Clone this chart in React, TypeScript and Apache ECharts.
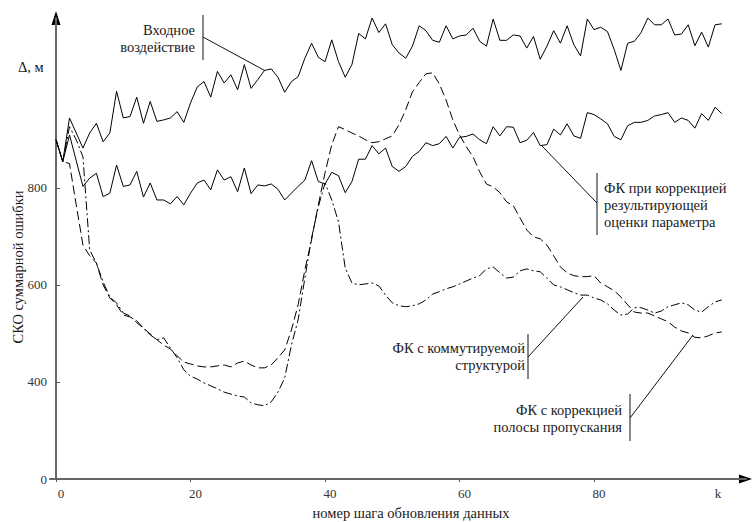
import React, { useEffect, useRef } from "react";
import * as echarts from "echarts";

// step index k = 0..99
const inputSignal = [
  899, 854, 944, 913, 882, 913, 933, 895, 913, 999,
  944, 947, 987, 933, 978, 937, 940, 944, 957, 935,
  975, 1008, 1019, 987, 1040, 1016, 1033, 1002, 1054, 1005,
  1023, 1042, 1045, 1028, 997, 1019, 1029, 1067, 1098, 1069,
  1060, 1105, 1060, 1028, 1054, 1118, 1107, 1150, 1120, 1138,
  1095, 1078, 1067, 1092, 1134, 1124, 1104, 1100, 1134, 1107,
  1113, 1115, 1129, 1102, 1092, 1148, 1104, 1104, 1115, 1113,
  1088, 1112, 1065, 1092, 1124, 1098, 1134, 1095, 1072, 1148,
  1126, 1131, 1122, 1085, 1042, 1098, 1102, 1120, 1150, 1136,
  1136, 1148, 1115, 1117, 1136, 1093, 1121, 1090, 1136, 1138,
];

const resultCorrection = [
  899, 854, 909, 856, 803, 820, 830, 782, 789, 847,
  803, 806, 834, 781, 810, 775, 775, 767, 782, 765,
  789, 810, 816, 796, 837, 816, 823, 792, 841, 788,
  806, 804, 808, 797, 775, 789, 803, 816, 856, 813,
  808, 832, 825, 790, 813, 859, 859, 887, 870, 882,
  844, 834, 844, 865, 875, 893, 887, 891, 906, 882,
  904, 906, 911, 899, 891, 926, 907, 926, 925, 893,
  898, 914, 887, 889, 921, 909, 932, 907, 902, 955,
  951, 942, 932, 906, 899, 928, 935, 935, 939, 948,
  951, 955, 935, 944, 939, 923, 953, 939, 966, 953,
];

const bandwidthCorrection = [
  899, 854, 850, 765, 682, 660, 645, 600, 573, 559,
  538, 534, 526, 511, 499, 487, 476, 468, 454, 441,
  437, 433, 431, 431, 433, 435, 431, 439, 443, 435,
  429, 429, 435, 450, 466, 507, 559, 631, 693, 765,
  831, 889, 926, 920, 913, 907, 899, 893, 895, 901,
  907, 930, 961, 998, 1017, 1035, 1037, 1014, 981, 940,
  909, 885, 864, 833, 808, 802, 790, 771, 763, 738,
  713, 699, 695, 682, 660, 637, 625, 619, 617, 617,
  619, 604, 596, 588, 575, 559, 544, 542, 542, 536,
  530, 524, 513, 505, 501, 492, 491, 495, 501, 503,
];

const switchedStructure = [
  899, 854, 926, 899, 864, 672, 645, 606, 575, 563,
  542, 536, 522, 511, 497, 487, 491, 470, 450, 425,
  412, 406, 398, 392, 386, 379, 375, 371, 369, 357,
  353, 351, 359, 379, 408, 476, 528, 614, 697, 761,
  810, 775, 730, 635, 604, 600, 602, 604, 598, 579,
  563, 557, 555, 557, 561, 569, 581, 586, 592, 596,
  602, 608, 614, 619, 633, 637, 625, 614, 616, 629,
  633, 629, 627, 614, 600, 596, 590, 584, 579, 579,
  573, 569, 561, 548, 538, 540, 553, 553, 548, 542,
  546, 555, 559, 563, 559, 548, 544, 555, 565, 569,
];

const xTickValues = [0, 20, 40, 60, 80];
const xLabelValues = [0, 20, 40, 60, 80, 97.7];
const yTickValues = [400, 600, 800];
const yLabelValues = [200, 400, 600, 800];

const FONT = "Liberation Serif";

const toPairs = (arr: number[]) => arr.map((v, i) => [i, v]);

export default function App() {
  const ref = useRef<HTMLDivElement>(null);
  useEffect(() => {
    if (!ref.current) return;
    const chart = echarts.init(ref.current, undefined, { renderer: "svg" });
    const txt = (
      text: string,
      x: number,
      y: number,
      align: string,
      extra: any = {},
      vAlign: string = "top"
    ) => ({
      type: "text",
      x,
      y,
      ...extra,
      style: {
        text,
        fill: "#1a1a1a",
        fontSize: 14.5,
        fontFamily: FONT,
        textAlign: align,
        textVerticalAlign: vAlign,
        lineHeight: 17,
      },
    });
    const ln = (x1: number, y1: number, x2: number, y2: number) => ({
      type: "line",
      shape: { x1, y1, x2, y2 },
      style: { stroke: "#111", lineWidth: 1 },
    });
    const lineSeries = (name: string, data: number[], type: any) => ({
      name,
      type: "line",
      data: toPairs(data),
      showSymbol: false,
      symbol: "none",
      clip: false,
      lineStyle: { color: "#000", width: 1, type },
    });
    chart.setOption({
      animation: false,
      backgroundColor: "#fff",
      textStyle: { fontFamily: FONT },
      grid: { left: 50, right: 6, top: 18, bottom: 43 },
      xAxis: {
        type: "value",
        min: -0.9,
        max: 102.6,
        splitLine: { show: false },
        axisLine: { lineStyle: { color: "#666", width: 2 } },
        axisTick: {
          show: true,
          length: 3,
          customValues: xTickValues,
          lineStyle: { color: "#555", width: 1 },
        },
        axisLabel: {
          customValues: xLabelValues,
          formatter: (v: number) => (v > 90 ? "k" : String(v)),
          fontFamily: FONT,
          fontSize: 13,
          color: "#333",
          margin: 8,
          padding: [0, 0, 0, 10],
        },
      },
      yAxis: {
        type: "value",
        min: 200,
        max: 1150,
        splitLine: { show: false },
        axisLine: { onZero: true, lineStyle: { color: "#666", width: 2 } },
        axisTick: {
          show: true,
          inside: true,
          length: 4,
          customValues: yTickValues,
          lineStyle: { color: "#555", width: 1 },
        },
        axisLabel: {
          customValues: yLabelValues,
          formatter: (v: number) => (v === 200 ? "0" : String(v)),
          fontFamily: FONT,
          fontSize: 13,
          color: "#333",
          margin: 3,
          padding: [12, 0, 0, 0],
        },
      },
      series: [
        lineSeries("Входное воздействие", inputSignal, "solid"),
        lineSeries("ФК при коррекцией результирующей оценки параметра", resultCorrection, "solid"),
        lineSeries("ФК с коррекцией полосы пропускания", bandwidthCorrection, [9, 4]),
        lineSeries("ФК с коммутируемой структурой", switchedStructure, [9, 3, 2, 3]),
      ],
      graphic: [
        { type: "polygon", shape: { points: [[56, 11], [51.5, 25], [60.5, 25]] }, style: { fill: "#000" } },
        { type: "polygon", shape: { points: [[752, 479], [739, 474.5], [739, 483.5]] }, style: { fill: "#000" } },
        txt("Δ, м", 18, 67, "left", {}, "middle"),
        txt("СКО суммарной ошибки", 18, 267, "center", { rotation: Math.PI / 2 }, "middle"),
        txt("номер шага обновления данных", 411, 513, "center", {}, "middle"),
        // annotation 1
        txt("Входное\nвоздействие", 195, 21.5, "right"),
        ln(203, 15, 203, 60),
        ln(203, 37, 265, 70.7),
        // annotation 2
        txt("ФК при коррекцией\nрезультирующей\nоценки параметра", 604, 179.5, "left"),
        ln(597, 173, 597, 235),
        ln(597, 203, 542, 146),
        // annotation 3
        txt("ФК с коммутируемой\nструктурой", 525, 339.5, "right"),
        ln(528, 334, 528, 379),
        ln(528, 357, 583, 297),
        // annotation 4
        txt("ФК с коррекцией\nполосы пропускания", 622, 401.5, "right"),
        ln(630, 394, 630, 441),
        ln(630, 418, 693, 335),
      ],
    });
    return () => chart.dispose();
  }, []);
  return (
    <div
      ref={ref}
      style={{ position: "absolute", left: 0, top: 0, width: 752, height: 522 }}
    />
  );
}
